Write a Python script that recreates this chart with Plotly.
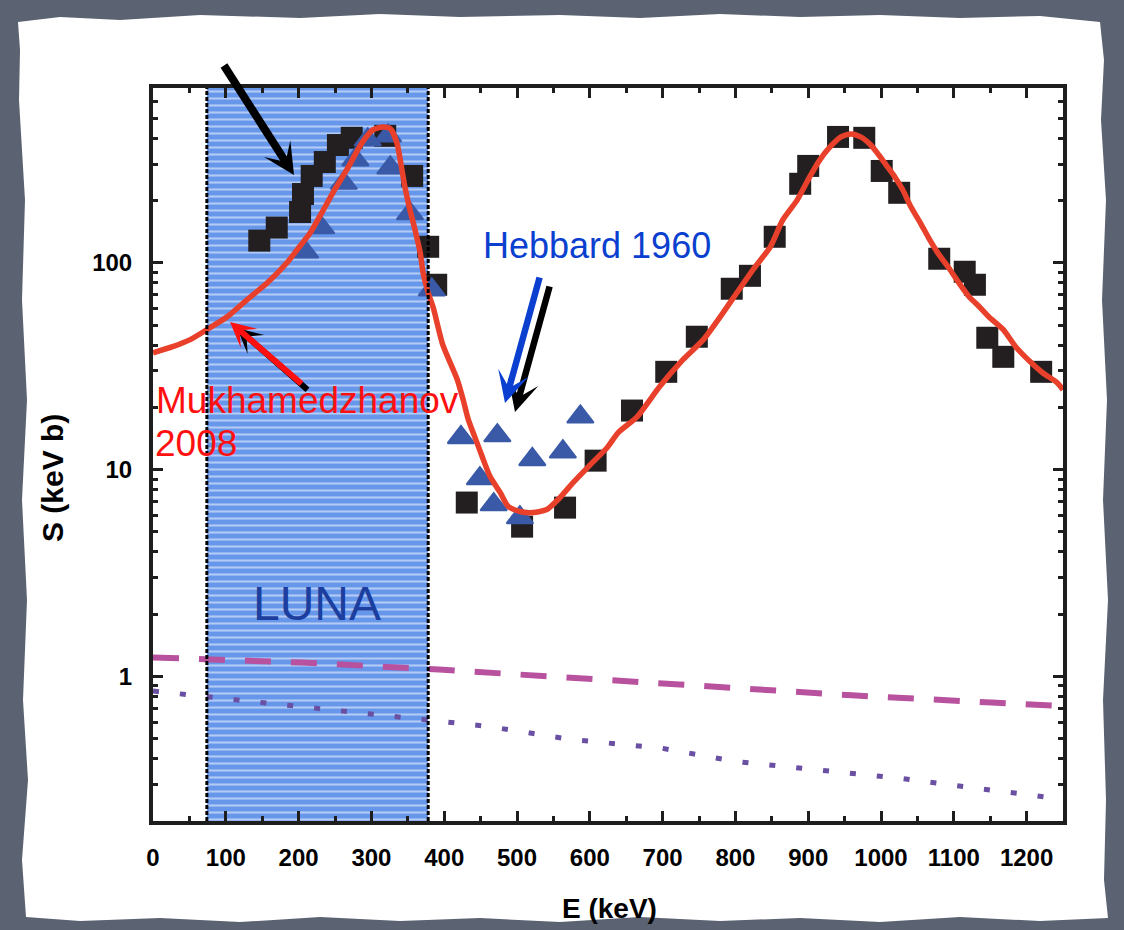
import math
import plotly.graph_objects as go

# ---------------- data ----------------
# R-matrix fit (Mukhamedzhanov 2008)
E_fit = [0, 27, 51, 74, 102, 129, 157, 184, 198, 216, 234, 247, 266, 287, 302, 316, 326,
         335, 342, 346, 353, 360, 367, 371, 378, 385, 398, 418, 426, 433, 442, 452, 463,
         477, 488, 504, 522, 541, 559, 577, 600, 624, 639, 665, 696, 728, 756, 783, 802,
         824, 848, 865, 885, 902, 916, 930, 945, 959, 972, 986, 997, 1007, 1019, 1030,
         1041, 1054, 1067, 1078, 1093, 1107, 1121, 1135, 1148, 1168, 1185, 1205, 1222,
         1242, 1250]
S_fit = [36.7, 39.3, 42.5, 47.5, 54.8, 66.2, 80, 100, 115.6, 139.6, 180, 218, 281, 380,
         439, 454, 445, 380, 281, 233, 180, 144, 112, 89.5, 71.6, 60.6, 40.2, 27.2, 21.8,
         17.5, 14.4, 11.6, 9.25, 7.74, 6.63, 6.27, 6.2, 6.41, 7.32, 8.65, 10.5, 12.8, 15.1,
         18.0, 25.2, 34.0, 42.5, 57.3, 71.6, 92.5, 119.5, 161, 201.5, 260, 314.6, 363, 406,
         420, 406, 371, 332, 297, 260, 225, 186.5, 156, 129, 111.7, 94.6, 80, 68.5, 61.3,
         54.8, 47.5, 39.3, 33.2, 29.4, 26.3, 24.3]

# black squares
E_sq = [146, 170, 202, 206, 218, 236, 254, 273, 319, 356, 378, 389,
        431, 507, 566, 608, 658, 705, 747, 795, 820, 854, 889, 900, 941, 977,
        1001, 1025, 1080, 1115, 1129, 1146, 1168, 1220]
S_sq = [128, 148, 176, 215, 263, 307, 371, 402, 411, 263, 119.5, 78.3,
        6.93, 5.3, 6.55, 11.05, 19.3, 29.7, 43.9, 74.9, 86.5, 133.6, 241, 294, 406, 402,
        278, 218, 104.6, 90.5, 78.3, 43.4, 35.1, 29.7]

# blue triangles (Hebbard 1960)
E_tri = [209, 231, 262, 278, 295, 323, 326, 353, 383,
         423, 449, 468, 473, 504, 521, 563, 587]
S_tri = [113, 148, 243, 315, 393, 411, 288, 173, 74,
         14.3, 9.05, 6.78, 14.6, 5.86, 11.2, 12.2, 18.0]

# dashed and dotted components
E_dash = [0, 204, 393, 582, 773, 960, 1152, 1250]
S_dash = [1.235, 1.168, 1.08, 0.978, 0.885, 0.81, 0.748, 0.72]
E_dot = [0, 119, 231, 344, 459, 574, 700, 800, 915, 1028, 1176, 1250]
S_dot = [0.85, 0.766, 0.70, 0.634, 0.574, 0.496, 0.449, 0.388, 0.355, 0.321, 0.275, 0.255]

LUNA_E = [74, 378]

x_tickvals = [0, 100, 200, 300, 400, 500, 600, 700, 800, 900, 1000, 1100, 1200]
x_minor = [50, 150, 250, 350, 450, 550, 650, 750, 850, 950, 1050, 1150, 1250]
y_tickvals = [1, 10, 100]
y_ticktext = ["1", "10", "100"]
y_minor = [0.2, 0.3, 0.4, 0.5, 0.6, 0.7, 0.8, 0.9, 2, 3, 4, 5, 6, 7, 8, 9,
           20, 30, 40, 50, 60, 70, 80, 90, 200, 300, 400, 500, 600, 700]
Y_RANGE = [0.2, 700]
X_RANGE = [0, 1250]

# ---------------- layout helpers ----------------
W, H = 1124, 930
L, R, T, B = 153, 61, 88, 109
PW, PH = W - L - R, H - T - B


def pp(x, y):
    """pixel -> paper coordinates"""
    return (x - L) / PW, (H - B - y) / PH


FONT = "Liberation Sans, Arial, sans-serif"

fig = go.Figure()

# LUNA band
fig.add_trace(go.Scatter(
    x=[LUNA_E[0], LUNA_E[0], LUNA_E[1], LUNA_E[1], LUNA_E[0]],
    y=[Y_RANGE[0], Y_RANGE[1], Y_RANGE[1], Y_RANGE[0], Y_RANGE[0]],
    mode="lines", fill="toself", fillcolor="#6797ea",
    fillpattern=dict(shape="-", bgcolor="#6797ea", fgcolor="white", size=7, solidity=0.3),
    line=dict(width=0), hoverinfo="skip"))

fig.add_trace(go.Scatter(x=E_dash, y=S_dash, mode="lines",
                         line=dict(color="#b8529f", width=6, dash="26px,20px"), hoverinfo="skip"))
fig.add_trace(go.Scatter(x=E_dot, y=S_dot, mode="lines",
                         line=dict(color="#6a50a3", width=5, dash="6px,21px"), hoverinfo="skip"))

fig.add_trace(go.Scatter(x=E_sq, y=S_sq, mode="markers",
                         marker=dict(symbol="square", size=22, color="#231f20"), cliponaxis=False))
fig.add_trace(go.Scatter(x=E_tri, y=S_tri, mode="markers",
                         marker=dict(symbol="triangle-up", size=23, color="#3a5aa8",
                                     line=dict(color="#3a5aa8", width=2))))
fig.add_trace(go.Scatter(x=E_fit, y=S_fit, mode="lines",
                         line=dict(color="#e8402a", width=5.5, shape="spline", smoothing=0.6),
                         hoverinfo="skip"))

shapes = []
# torn paper card
card = [(18, 22), (60, 17), (120, 20), (200, 15), (300, 18), (380, 14), (460, 17), (560, 15),
        (640, 18), (720, 14), (800, 17), (880, 15), (960, 18), (1040, 16), (1100, 22),
        (1104, 60), (1101, 120), (1106, 200), (1102, 300), (1107, 400), (1103, 500),
        (1108, 600), (1103, 700), (1106, 800), (1104, 880), (1108, 918),
        (1040, 921), (960, 917), (880, 922), (800, 918), (720, 921), (640, 917), (560, 922),
        (480, 918), (400, 921), (320, 917), (240, 922), (160, 918), (80, 921), (26, 917),
        (22, 860), (28, 780), (23, 700), (27, 600), (22, 500), (27, 400), (22, 300),
        (25, 200), (19, 100), (20, 50)]
path = "M " + " L ".join("%.5f,%.5f" % pp(x, y) for x, y in card) + " Z"
shapes.append(dict(type="path", path=path, xref="paper", yref="paper",
                   fillcolor="white", line=dict(width=0), layer="below"))
for e in LUNA_E:
    shapes.append(dict(type="line", xref="x", yref="paper", x0=e, x1=e, y0=0, y1=1,
                       line=dict(color="black", width=3, dash="4px,2px")))

ann = []


def text(x, y, s, size, color, xanchor="center", bold=False, angle=0):
    px_, py_ = pp(x, y)
    ann.append(dict(x=px_, y=py_, xref="paper", yref="paper", text=s, showarrow=False,
                    xanchor=xanchor, yanchor="middle", textangle=angle,
                    font=dict(family=FONT, size=size, color=color,
                              weight="bold" if bold else "normal")))


def arrow(tip, tail, color, width, size):
    px_, py_ = pp(*tip)
    ann.append(dict(x=px_, y=py_, xref="paper", yref="paper", text="", showarrow=True,
                    ax=tail[0] - tip[0], ay=tail[1] - tip[1], arrowhead=3,
                    arrowsize=size, arrowwidth=width, arrowcolor=color, standoff=0))


# arrows (shadow first)
arrow((294, 175), (223, 64), "black", 8, 0.65)
arrow((237, 328), (309, 391), "black", 6, 0.7)
arrow((230, 322), (303, 385), "#ff1010", 6, 0.7)
arrow((515, 412), (550, 285), "black", 6.5, 0.8)
arrow((505, 403), (540, 276), "#0a3fd0", 6.5, 0.8)

text(597, 245, "Hebbard 1960", 36, "#0a3fd0")
text(154, 400, "Mukhamedzhanov", 37, "#ff1010", xanchor="left")
text(153, 444, "2008", 37, "#ff1010", xanchor="left")
text(317, 603, "LUNA", 48, "#1c3e9e")
text(609, 908, "E (keV)", 28, "black", bold=True)
text(52, 478, "S (keV b)", 30, "black", bold=True, angle=-90)

axis_common = dict(showline=True, linewidth=4, linecolor="#1e1e1e", mirror="ticks",
                   ticks="inside", ticklen=10, tickwidth=3, tickcolor="#1e1e1e",
                   showgrid=False, zeroline=False,
                   tickfont=dict(family=FONT, size=24, color="black", weight="bold"))

fig.update_layout(
    width=W, height=H, margin=dict(l=L, r=R, t=T, b=B),
    paper_bgcolor="#5b6272", plot_bgcolor="white", showlegend=False,
    shapes=shapes, annotations=ann,
    xaxis=dict(range=X_RANGE, tickmode="array", tickvals=x_tickvals,
               ticktext=[str(v) for v in x_tickvals], ticklabelstandoff=12,
               minor=dict(tickmode="array", tickvals=x_minor, ticklen=5, tickwidth=3,
                          tickcolor="#1e1e1e", ticks="inside"),
               **axis_common),
    yaxis=dict(type="log", range=[math.log10(Y_RANGE[0]), math.log10(Y_RANGE[1])],
               tickmode="array", tickvals=y_tickvals, ticktext=y_ticktext,
               ticklabelstandoff=12,
               minor=dict(tickmode="array", tickvals=y_minor, ticklen=5, tickwidth=3,
                          tickcolor="#1e1e1e", ticks="inside"),
               **axis_common),
)

fig.write_html("out.html")
